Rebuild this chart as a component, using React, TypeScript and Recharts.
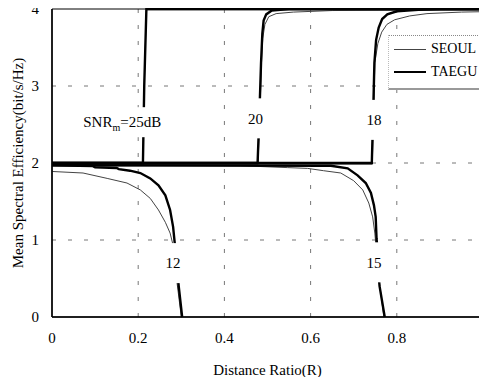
import React from 'react'
import {
  LineChart,
  Line,
  XAxis,
  YAxis,
  CartesianGrid,
  ReferenceArea,
  ReferenceDot,
  Legend,
} from 'recharts'

const X_TICKS = [0, 0.2, 0.4, 0.6, 0.8, 0.999]
const Y_TICKS = [0, 1, 2, 3, 4]

// [distance ratio, spectral efficiency]
const taegu25 = [[0, 2.0], [0.211, 2.0], [0.214, 3.0], [0.219, 4.0], [1, 4.0]]
const seoul25 = [[0, 1.985], [0.211, 1.985], [0.214, 3.0], [0.219, 3.99], [1, 3.99]]

const taegu20 = [
  [0, 2.0], [0.477, 2.0], [0.481, 2.6], [0.485, 3.3], [0.488, 3.68], [0.491, 3.85],
  [0.497, 3.93], [0.51, 3.98], [0.55, 4.0], [1, 4.0],
]
const seoul20 = [
  [0, 1.985], [0.478, 1.985], [0.482, 2.6], [0.486, 3.3], [0.489, 3.62], [0.494, 3.8],
  [0.503, 3.9], [0.52, 3.94], [0.56, 3.96], [0.65, 3.98], [1, 3.99],
]

const taegu18 = [
  [0, 2.0], [0.742, 2.0], [0.745, 2.6], [0.748, 3.3], [0.752, 3.6], [0.758, 3.76],
  [0.766, 3.87], [0.778, 3.93], [0.8, 3.97], [0.85, 3.99], [0.9, 4.0], [1, 4.0],
]
const seoul18 = [
  [0, 1.985], [0.743, 1.985], [0.746, 2.6], [0.749, 3.3], [0.756, 3.55], [0.765, 3.7],
  [0.777, 3.8], [0.795, 3.86], [0.83, 3.91], [0.87, 3.94], [0.95, 3.96], [1, 3.965],
]

const taegu12 = [
  [0, 1.97], [0.095, 1.96], [0.1, 1.945], [0.15, 1.935], [0.155, 1.92], [0.181, 1.9],
  [0.205, 1.87], [0.228, 1.8], [0.247, 1.71], [0.263, 1.58], [0.274, 1.39], [0.281, 1.17],
  [0.286, 0.89], [0.29, 0.65], [0.294, 0.4], [0.302, 0],
]
const seoul12 = [
  [0, 1.89], [0.072, 1.87], [0.128, 1.8], [0.174, 1.74], [0.205, 1.65], [0.228, 1.54],
  [0.247, 1.39], [0.263, 1.23], [0.274, 1.09], [0.281, 0.93], [0.285, 0.7], [0.29, 0.45],
  [0.3, 0],
]

const taegu15 = [
  [0, 1.97], [0.647, 1.965], [0.686, 1.93], [0.709, 1.84], [0.728, 1.74], [0.74, 1.61],
  [0.747, 1.45], [0.751, 1.3], [0.753, 1.02], [0.755, 0.89], [0.757, 0.6], [0.76, 0.4],
  [0.772, 0],
]
const seoul15 = [
  [0, 1.97], [0.437, 1.965], [0.547, 1.94], [0.593, 1.93], [0.63, 1.9], [0.67, 1.87],
  [0.7, 1.77], [0.721, 1.65], [0.735, 1.48], [0.744, 1.3], [0.749, 1.09], [0.752, 0.9],
  [0.756, 0.6], [0.77, 0],
]

const SEOUL_CURVES = [seoul25, seoul20, seoul18, seoul12, seoul15]
const TAEGU_CURVES = [taegu25, taegu20, taegu18, taegu12, taegu15]

// curve labels: text, x, y
const CURVE_LABELS = [
  { text: 'SNR', sub: 'm', tail: '=25dB', x: 0.163, y: 2.53 },
  { text: '20', x: 0.472, y: 2.58 },
  { text: '18', x: 0.747, y: 2.56 },
  { text: '12', x: 0.281, y: 0.7 },
  { text: '15', x: 0.747, y: 0.71 },
]

const LEGEND_NAMES = ['SEOUL', 'TAEGU']

const FONT = 'Liberation Serif'

const pts = (arr: number[][]) => arr.map(([x, y]) => ({ x, y }))

function CurveLabel(props: any) {
  const { cx, cy, item } = props
  const isSnr = !!item.sub
  const w = isSnr ? 84 : 24
  const h = isSnr ? 30 : 40
  return (
    <g>
      <rect x={cx - w / 2} y={cy - h / 2} width={w} height={h} fill="#fff" />
      <text
        x={cx}
        y={cy}
        dy="0.35em"
        textAnchor="middle"
        style={{ fontFamily: FONT, fontSize: 15 }}
        fill="#000"
      >
        {item.text}
        {isSnr && (
          <>
            <tspan style={{ fontSize: 10 }} dy="4">{item.sub}</tspan>
            <tspan dy="-4">{item.tail}</tspan>
          </>
        )}
      </text>
    </g>
  )
}

function LegendBox() {
  return (
    <div
      style={{
        width: 95,
        height: 52,
        background: '#fff',
        borderTop: '1px dotted #888',
        borderBottom: '2px solid #999',
        borderLeft: '1px dotted #bbb',
        fontFamily: FONT,
        fontSize: 14,
        color: '#000',
        position: 'relative',
      }}
    >
      {LEGEND_NAMES.map((name, i) => (
        <div
          key={name}
          style={{ position: 'absolute', left: 5, top: 5 + i * 23, display: 'flex', alignItems: 'center', whiteSpace: 'nowrap' }}
        >
          <span
            style={{
              display: 'inline-block',
              width: 32,
              borderTop: i === 0 ? '1px solid #444' : '2px solid #000',
              marginRight: 5,
            }}
          />
          <span>{name}</span>
        </div>
      ))}
    </div>
  )
}

function XTick(props: any) {
  const { x, y, payload } = props
  return (
    <text
      x={x}
      y={y}
      dy="0.71em"
      textAnchor="middle"
      style={{ fontFamily: FONT, fontSize: 15 }}
      fill="#000"
    >
      {String(Math.round(payload.value * 10) / 10)}
    </text>
  )
}

const tickStyle = { fontFamily: FONT, fontSize: 15, fill: '#000' }

export default function App() {
  return (
    <div style={{ margin: -8, width: 487, height: 385 }}>
      <LineChart
        width={487}
        height={385}
        margin={{ top: 9, right: 4, left: 0, bottom: 0 }}
        style={{ fontFamily: FONT }}
      >
        <CartesianGrid
          stroke="#777"
          strokeDasharray="4 12"
          horizontalValues={[1, 2, 3]}
          verticalValues={[0.2, 0.4, 0.6, 0.8]}
        />
        <XAxis
          dataKey="x"
          type="number"
          domain={[0, 1]}
          ticks={X_TICKS}
          interval={0}
          tickLine={false}
          tickSize={0}
          tickMargin={15}
          height={68}
          axisLine={{ stroke: '#000', strokeWidth: 1.5 }}
          tick={<XTick />}
          label={(p: any) => {
            const vb = p.viewBox
            return (
              <text
                x={vb.x + vb.width / 2}
                y={vb.y + 58}
                textAnchor="middle"
                style={{ fontFamily: FONT, fontSize: 15 }}
                fill="#000"
              >
                Distance Ratio(R)
              </text>
            )
          }}
        />
        <YAxis
          type="number"
          domain={[0, 4]}
          ticks={Y_TICKS}
          interval={0}
          width={52}
          tickLine={false}
          tickSize={0}
          tickMargin={13}
          axisLine={{ stroke: '#000', strokeWidth: 1.5 }}
          tick={tickStyle}
          label={(p: any) => {
            const vb = p.viewBox
            const cx = 18
            const cy = vb.y + vb.height / 2
            return (
              <text
                x={cx}
                y={cy}
                transform={`rotate(-90 ${cx} ${cy})`}
                textAnchor="middle"
                dy="0.35em"
                style={{ fontFamily: FONT, fontSize: 15 }}
                fill="#000"
              >
                Mean Spectral Efficiency(bit/s/Hz)
              </text>
            )
          }}
        />
        {SEOUL_CURVES.map((c, i) => (
          <Line
            key={`s${i}`}
            data={pts(c)}
            dataKey="y"
            name="SEOUL"
            type="linear"
            stroke="#444"
            strokeWidth={1}
            dot={false}
            isAnimationActive={false}
          />
        ))}
        {TAEGU_CURVES.map((c, i) => (
          <Line
            key={`t${i}`}
            data={pts(c)}
            dataKey="y"
            name="TAEGU"
            type="linear"
            stroke="#000"
            strokeWidth={2.4}
            dot={false}
            isAnimationActive={false}
          />
        ))}
        <ReferenceArea
          x1={0}
          x2={1}
          y1={0}
          y2={4}
          fill="none"
          stroke="#000"
          strokeWidth={1}
          fillOpacity={0}
        />
        {CURVE_LABELS.map((item, i) => (
          <ReferenceDot
            key={`l${i}`}
            x={item.x}
            y={item.y}
            r={1}
            shape={(p: any) => <CurveLabel cx={p.cx} cy={p.cy} item={item} />}
          />
        ))}
        <Legend
          layout="horizontal"
          verticalAlign="middle"
          align="center"
          content={() => <LegendBox />}
          wrapperStyle={{ left: 388, top: 35, width: 95, height: 54 }}
        />
      </LineChart>
    </div>
  )
}
